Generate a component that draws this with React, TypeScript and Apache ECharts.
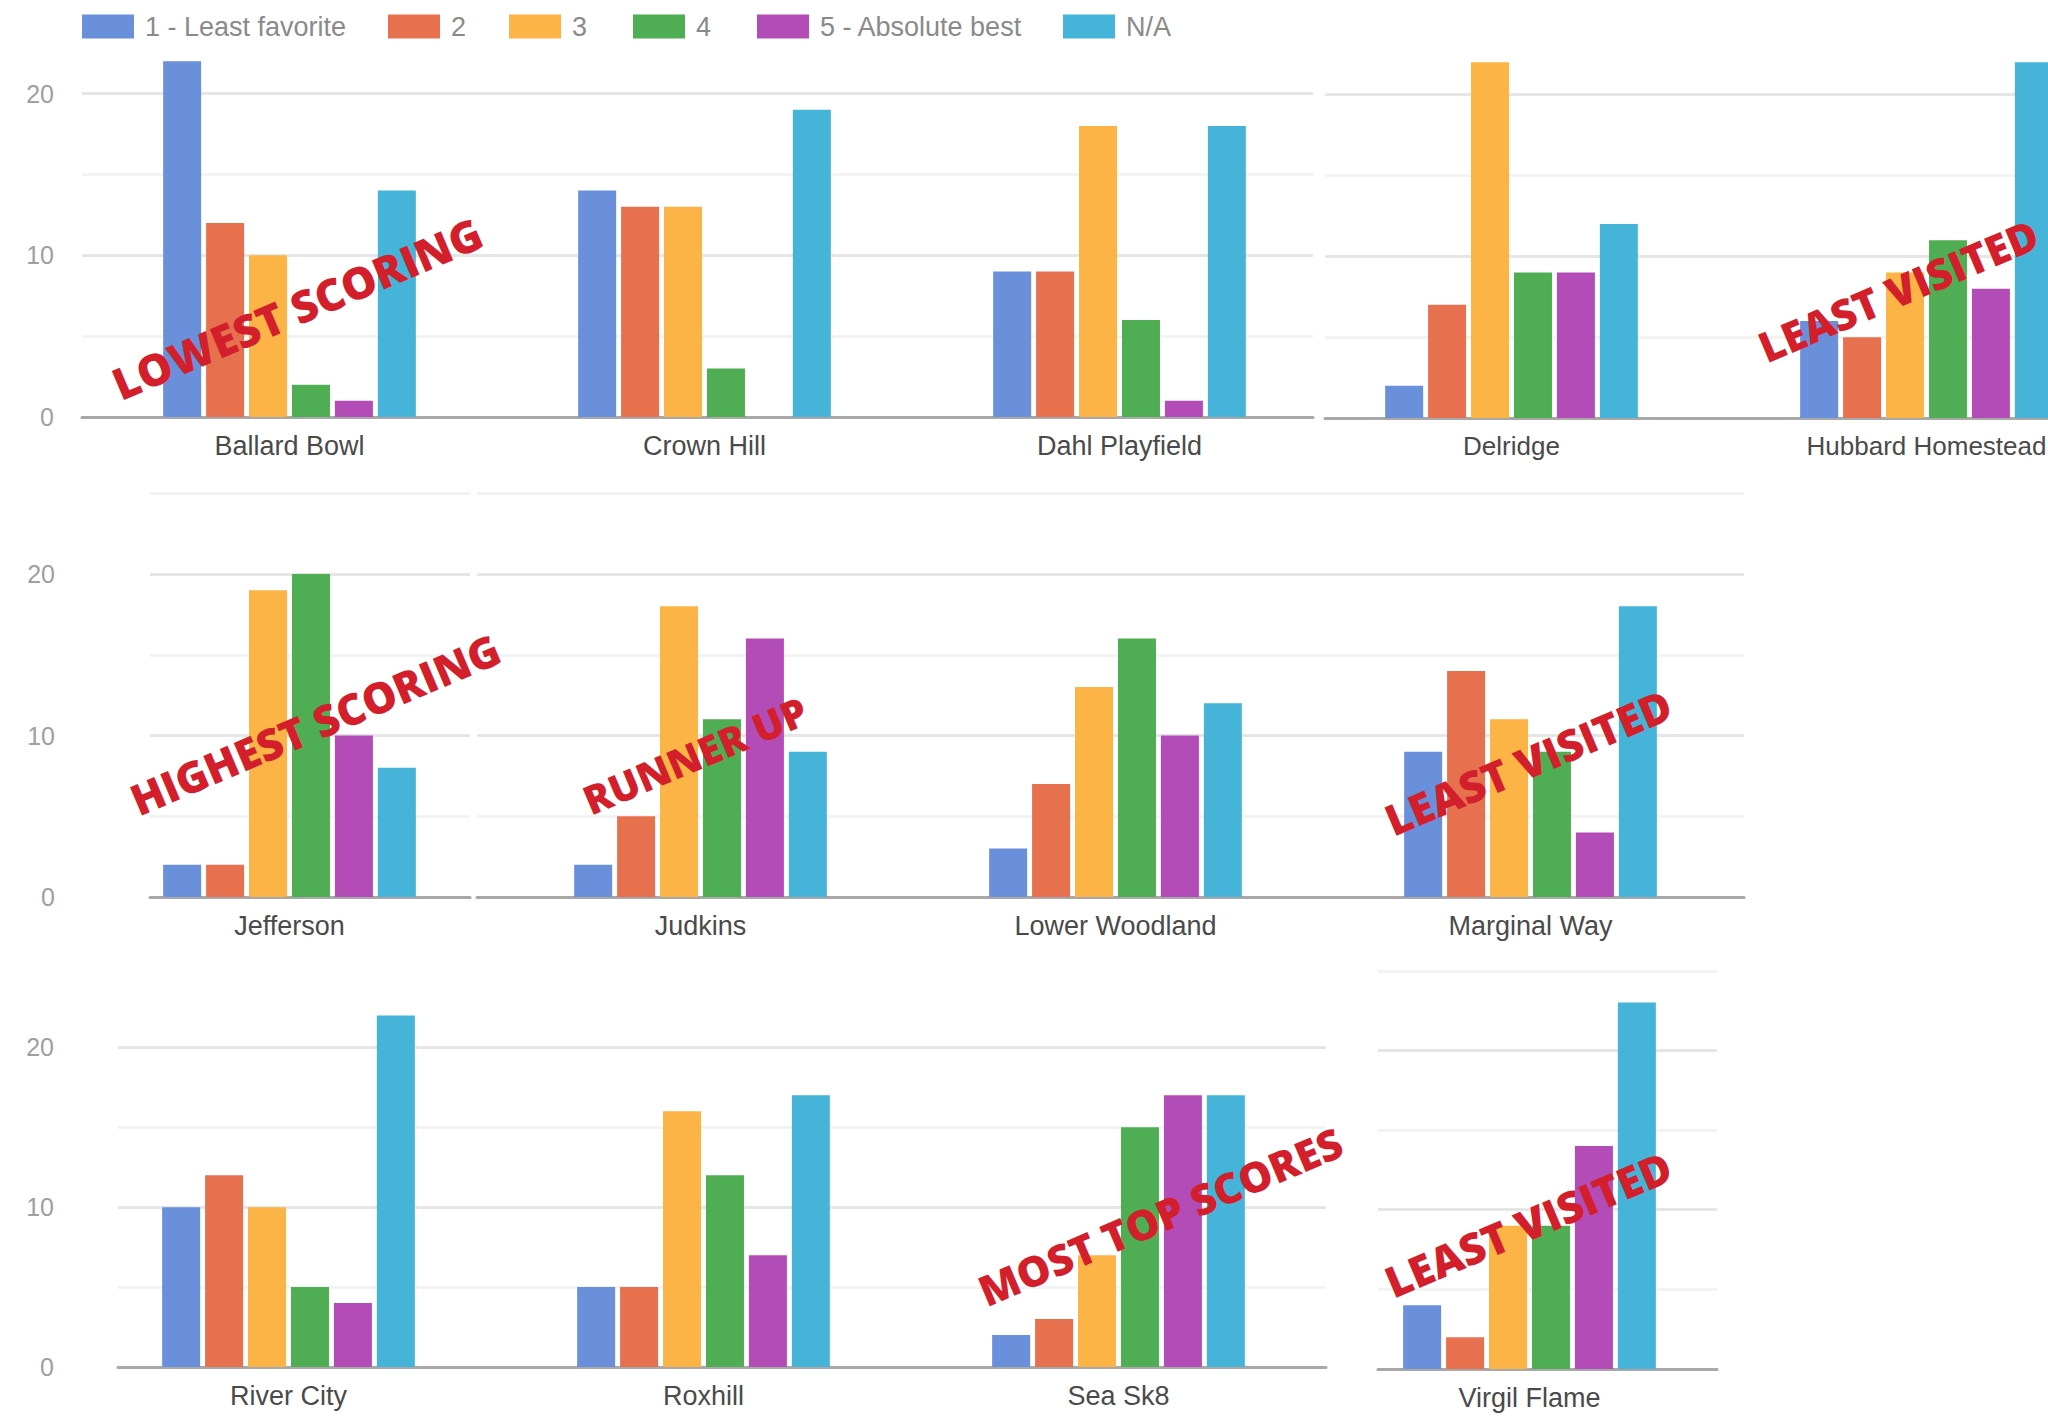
import React, { useEffect, useRef } from "react";
import * as echarts from "echarts";

// ---------- data ----------
const ratingNames = ["1 - Least favorite", "2", "3", "4", "5 - Absolute best", "N/A"];
const ratingColors = ["#6a8fdb", "#e7704f", "#fbb445", "#4fae53", "#b44cb8", "#46b4d8"];

// votes per park, ordered as ratingNames
const ballardBowl = [22, 12, 10, 2, 1, 14];
const crownHill = [14, 13, 13, 3, 0, 19];
const dahlPlayfield = [9, 9, 18, 6, 1, 18];
const delridge = [2, 7, 22, 9, 9, 12];
const hubbardHomestead = [6, 5, 9, 11, 8, 22];
const jefferson = [2, 2, 19, 20, 10, 8];
const judkins = [2, 5, 18, 11, 16, 9];
const lowerWoodland = [3, 7, 13, 16, 10, 12];
const marginalWay = [9, 14, 11, 9, 4, 18];
const riverCity = [10, 12, 10, 5, 4, 22];
const roxhill = [5, 5, 16, 12, 7, 17];
const seaSk8 = [2, 3, 7, 15, 17, 17];
const virgilFlame = [4, 2, 9, 9, 14, 23];

const parkValues: Record<string, number[]> = {
  "Ballard Bowl": ballardBowl,
  "Crown Hill": crownHill,
  "Dahl Playfield": dahlPlayfield,
  "Delridge": delridge,
  "Hubbard Homestead": hubbardHomestead,
  "Jefferson": jefferson,
  "Judkins": judkins,
  "Lower Woodland": lowerWoodland,
  "Marginal Way": marginalWay,
  "River City": riverCity,
  "Roxhill": roxhill,
  "Sea Sk8": seaSk8,
  "Virgil Flame": virgilFlame,
};

const parksRow1A = ["Ballard Bowl", "Crown Hill", "Dahl Playfield"];
const parksRow1B = ["Delridge", "Hubbard Homestead"];
const parksRow2A = ["Jefferson"];
const parksRow2B = ["Judkins", "Lower Woodland", "Marginal Way"];
const parksRow3A = ["River City", "Roxhill", "Sea Sk8"];
const parksRow3B = ["Virgil Flame"];

const yTickLabels = ["0", "10", "20"];

const annotationTexts = [
  "LOWEST SCORING",
  "LEAST VISITED",
  "HIGHEST SCORING",
  "RUNNER UP",
  "LEAST VISITED",
  "MOST TOP SCORES",
  "LEAST VISITED",
];

// ---------- layout ----------
const CANVAS_W = 2200; // drawn wider than the page, then cropped (the last panel runs off the edge)
const Y_MAX = 25;
const BAND = 415;

const panels = [
  { parks: parksRow1A, bgLeft: 82, bgRight: 1313, dataLeft: 82, base: 417, unit: 16.17, yLabels: true, labelMargin: 28, labelShift: 0, topLine: false, catSize: 27 },
  { parks: parksRow1B, bgLeft: 1325, bgRight: 2160, dataLeft: 1304, base: 418, unit: 16.17, yLabels: false, labelMargin: 0, labelShift: 0, topLine: false, catSize: 26 },
  { parks: parksRow2A, bgLeft: 150, bgRight: 470, dataLeft: 82, base: 897, unit: 16.15, yLabels: true, labelMargin: 95, labelShift: 7, topLine: true, catSize: 27 },
  { parks: parksRow2B, bgLeft: 477, bgRight: 1744, dataLeft: 493, base: 897, unit: 16.15, yLabels: false, labelMargin: 0, labelShift: 0, topLine: true, catSize: 27 },
  { parks: parksRow3A, bgLeft: 118, bgRight: 1326, dataLeft: 81, base: 1367, unit: 15.98, yLabels: true, labelMargin: 64, labelShift: 11, topLine: false, catSize: 27 },
  { parks: parksRow3B, bgLeft: 1378, bgRight: 1717, dataLeft: 1322, base: 1369, unit: 15.93, yLabels: false, labelMargin: 0, labelShift: 0, topLine: true, catSize: 27 },
];

const legendLefts = [82, 388, 509, 633, 757, 1063];

const annotationLayout = [
  { x: 297, y: 308, size: 44 },
  { x: 1898, y: 290, size: 42 },
  { x: 315, y: 724, size: 43 },
  { x: 695, y: 755, size: 40 },
  { x: 1528, y: 762, size: 43 },
  { x: 1160, y: 1216, size: 42 },
  { x: 1528, y: 1224, size: 43 },
];

const FONT = "'Liberation Sans', Arial, sans-serif";

function buildOption() {
  const grid: any[] = [];
  const xAxis: any[] = [];
  const yAxis: any[] = [];
  const series: any[] = [];

  panels.forEach((p) => {
    const height = Y_MAX * p.unit;
    const top = p.base - height;

    // background grid: gridlines, baseline, y labels
    const bgIdx = grid.length;
    grid.push({ left: p.bgLeft, top, width: p.bgRight - p.bgLeft, height });
    xAxis.push({
      gridIndex: bgIdx,
      type: "value",
      min: 0,
      max: 1,
      axisLine: { show: true, onZero: false, lineStyle: { color: "#a8a8a8", width: 3 } },
      axisTick: { show: false },
      axisLabel: { show: false },
      splitLine: { show: false },
    });
    yAxis.push({
      gridIndex: bgIdx,
      type: "value",
      min: 0,
      max: Y_MAX,
      interval: 5,
      axisLine: { show: false },
      axisTick: { show: false },
      axisLabel: {
        show: p.yLabels,
        margin: p.labelMargin,
        fontSize: 25,
        fontFamily: FONT,
        color: "#a0a0a0",
        padding: [p.labelShift * 2, 0, 0, 0],
        formatter: (v: number) => (yTickLabels.includes(String(v)) ? String(v) : ""),
      },
      splitLine: {
        show: true,
        lineStyle: {
          width: 3,
          color: [
            "rgba(0,0,0,0)",
            "#f3f3f3",
            "#e6e6e6",
            "#f3f3f3",
            "#e6e6e6",
            p.topLine ? "#f2f2f2" : "rgba(0,0,0,0)",
          ],
        },
      },
    });

    // data grid: bars and category labels
    const dIdx = grid.length;
    grid.push({ left: p.dataLeft, top, width: BAND * p.parks.length, height });
    xAxis.push({
      gridIndex: dIdx,
      type: "category",
      data: p.parks,
      axisLine: { show: false },
      axisTick: { show: false },
      splitLine: { show: false },
      axisLabel: { margin: 15, fontSize: p.catSize, fontFamily: FONT, color: "#4a4a4a" },
    });
    yAxis.push({ gridIndex: dIdx, type: "value", min: 0, max: Y_MAX, show: false, splitLine: { show: false } });

    ratingNames.forEach((name, r) => {
      series.push({
        type: "bar",
        name,
        xAxisIndex: dIdx,
        yAxisIndex: dIdx,
        data: p.parks.map((k) => parkValues[k][r]),
        itemStyle: { color: ratingColors[r] },
        barWidth: 38,
        barGap: "13%",
      });
    });
  });

  const legend = ratingNames.map((name, i) => ({
    data: [name],
    left: legendLefts[i],
    top: 13,
    itemWidth: 52,
    itemHeight: 24,
    icon: "rect",
    padding: 0,
    selectedMode: false,
    textStyle: { fontSize: 27, fontFamily: FONT, color: "#8a8a8a", padding: [0, 0, 0, 6] },
  }));

  const graphic = annotationTexts.map((text, i) => ({
    type: "text",
    x: annotationLayout[i].x,
    y: annotationLayout[i].y,
    rotation: (23 * Math.PI) / 180,
    z: 100,
    style: {
      text,
      fill: "#d21f2b",
      fontSize: annotationLayout[i].size,
      fontWeight: 800,
      fontFamily: "'Open Sans', Lato, sans-serif",
      align: "center",
      verticalAlign: "middle",
      textAlign: "center",
      textVerticalAlign: "middle",
    },
  }));

  return {
    animation: false,
    backgroundColor: "#ffffff",
    grid,
    xAxis,
    yAxis,
    series,
    legend,
    graphic,
  };
}

export default function App() {
  const ref = useRef<HTMLDivElement>(null);
  useEffect(() => {
    if (!ref.current) return;
    const chart = echarts.init(ref.current, undefined, { renderer: "svg" });
    chart.setOption(buildOption() as any);
    return () => chart.dispose();
  }, []);
  return (
    <div
      style={{ position: "absolute", left: 0, top: 0, width: 2048, height: 1417, overflow: "hidden", background: "#fff" }}
    >
      <div ref={ref} style={{ width: CANVAS_W, height: 1417 }} />
    </div>
  );
}
